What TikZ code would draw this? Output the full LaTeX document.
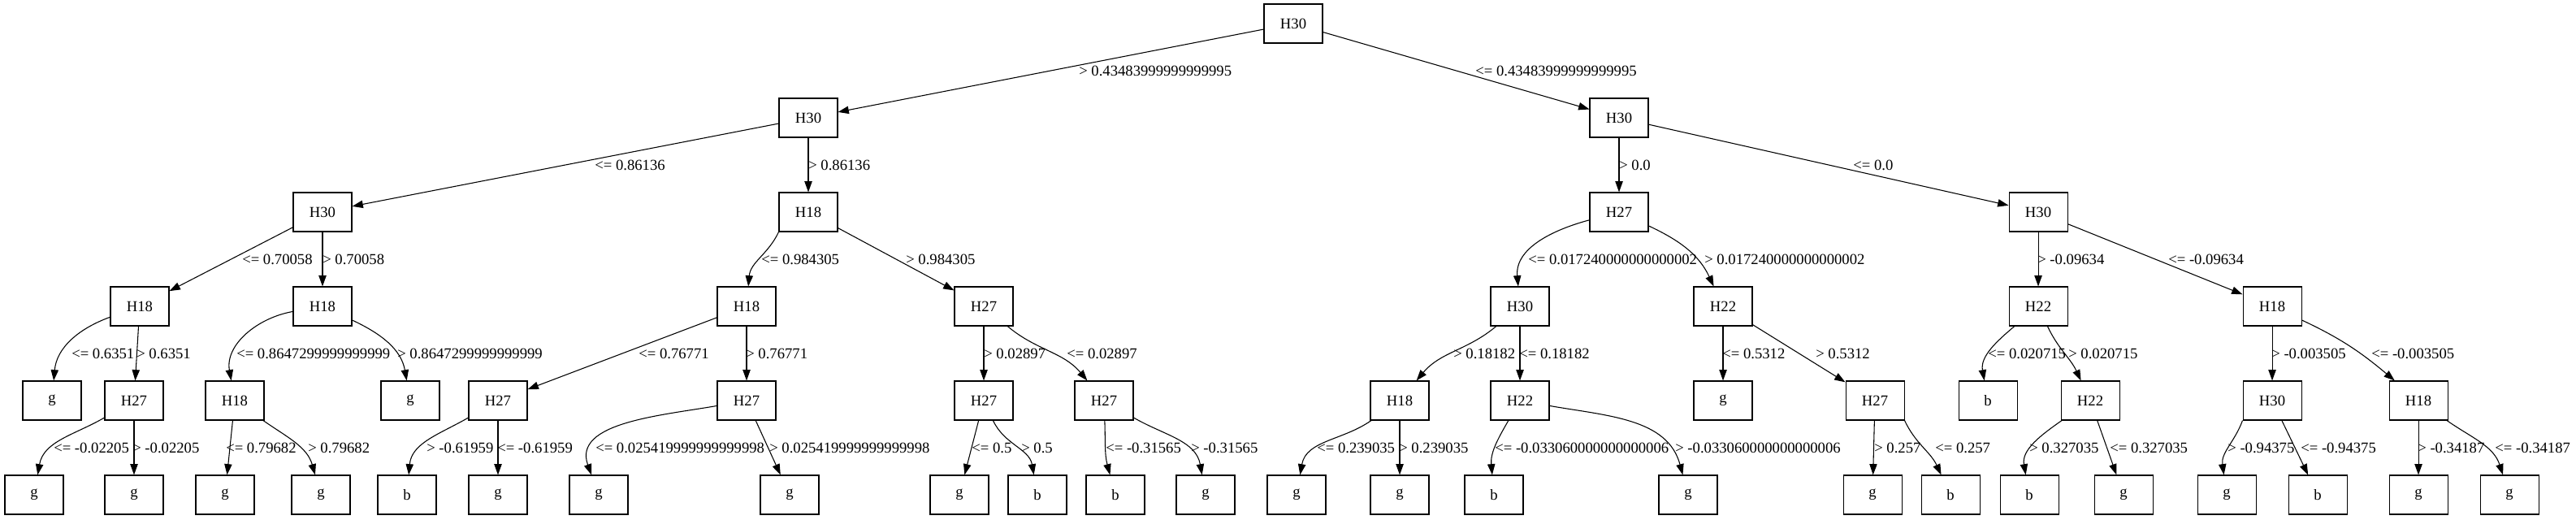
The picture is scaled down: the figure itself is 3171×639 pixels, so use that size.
\documentclass[tikz,border=0pt]{standalone}
\usepackage{fontspec}
\setmainfont{Liberation Serif}
\usetikzlibrary{arrows.meta}

\begin{document}
\begin{tikzpicture}[x=0.75pt,y=0.75pt,
    nbox/.style={draw,line width=0.8pt,minimum width=54pt,minimum height=36pt,inner sep=0pt,font=\fontsize{14}{16}\selectfont},
    elbl/.style={anchor=west,inner sep=0pt,font=\fontsize{14}{16}\selectfont},
    link/.style={line width=0.8pt,-{Triangle[length=10pt,width=7pt]}}]
  \fill[white] (0,0) rectangle (3171,-639);
  \useasboundingbox (0,0) rectangle (3171,-639);
  % tree nodes, one row per rank
  \node[nbox] (n0-0) at (1592,-29) {H30};
  \foreach \x/\t [count=\i from 0] in {995/H30,1993/H30}
    \node[nbox] (n1-\i) at (\x,-145) {\t};
  \foreach \x/\t [count=\i from 0] in {397/H30,995/H18,1993/H27,2509/H30}
    \node[nbox] (n2-\i) at (\x,-261) {\t};
  \foreach \x/\t [count=\i from 0] in {172/H18,397/H18,919/H18,1211/H27,1871/H30,2121/H22,2509/H22,2797/H18}
    \node[nbox] (n3-\i) at (\x,-377) {\t};
  \foreach \x/\t [count=\i from 0] in {64/g,165/H27,289/H18,505/g,613/H27,919/H27,1211/H27,1359/H27,
      1723/H18,1871/H22,2121/g,2308/H27,2447/b,2573/H22,2797/H30,2977/H18}
    \node[nbox] (n4-\i) at (\x,-493) {\t};
  \foreach \x/\t [count=\i from 0] in {42/g,165/g,277/g,395/g,501/b,613/g,737/g,972/g,1181/g,1277/b,1373/b,1484/g,
      1596/g,1723/g,1839/b,2078/g,2305/g,2401/b,2498/b,2614/g,2741/g,2853/b,2977/g,3089/g}
    \node[nbox] (n5-\i) at (\x,-609) {\t};
  % rank 0 -> 1
  \draw[link] (n0-0) -- (n1-0);
  \draw[link] (n0-0) -- (n1-1);
  % rank 1 -> 2
  \draw[link] (n1-0) -- (n2-0);
  \draw[link] (n1-0) -- (n2-1);
  \draw[link] (n1-1) -- (n2-2);
  \draw[link] (n1-1) -- (n2-3);
  % rank 2 -> 3
  \draw[link] (n2-0) -- (n3-0);
  \draw[link] (n2-0) -- (n3-1);
  \draw[link] (n2-1.south west) to[out=-115,in=85] (n3-2);
  \draw[link] (n2-1) -- (n3-3);
  \draw[link] (n2-2) to[out=-165,in=95] (n3-4);
  \draw[link] (n2-2) to[out=-25,in=115] (n3-5);
  \draw[link] (n2-3) -- (n3-6);
  \draw[link] (n2-3) -- (n3-7);
  % rank 3 -> 4
  \draw[link] (n3-0) to[out=-160,in=85] (n4-0);
  \draw[link] (n3-0) -- (n4-1);
  \draw[link] (n3-1) to[out=-170,in=100] (n4-2);
  \draw[link] (n3-1) to[out=-25,in=100] (n4-3);
  \draw[link] (n3-2) -- (n4-4);
  \draw[link] (n3-2) -- (n4-5);
  \draw[link] (n3-3) -- (n4-6);
  \draw[link] (n3-3) to[out=-40,in=130] (n4-7);
  \draw[link] (n3-4) to[out=-140,in=50] (n4-8);
  \draw[link] (n3-4) -- (n4-9);
  \draw[link] (n3-5) -- (n4-10);
  \draw[link] (n3-5) -- (n4-11);
  \draw[link] (n3-6) to[out=-140,in=100] (n4-12);
  \draw[link] (n3-6) to[out=-65,in=115] (n4-13);
  \draw[link] (n3-7) -- (n4-14);
  \draw[link] (n3-7) to[out=-25,in=140] (n4-15);
  % rank 4 -> 5
  \draw[link] (n4-1) to[out=-150,in=80] (n5-0);
  \draw[link] (n4-1) -- (n5-1);
  \draw[link] (n4-2) -- (n5-2);
  \draw[link] (n4-2) to[out=-35,in=106] (n5-3);
  \draw[link] (n4-4) to[out=-150,in=85] (n5-4);
  \draw[link] (n4-4) -- (n5-5);
  \draw[link] (n4-5) to[out=-170,in=110] (n5-6);
  \draw[link] (n4-5) -- (n5-7);
  \draw[link] (n4-6) -- (n5-8);
  \draw[link] (n4-6) to[out=-65,in=100] (n5-9);
  \draw[link] (n4-7) to[out=-88,in=105] (n5-10);
  \draw[link] (n4-7) to[out=-30,in=100] (n5-11);
  \draw[link] (n4-8) to[out=-145,in=80] (n5-12);
  \draw[link] (n4-8) -- (n5-13);
  \draw[link] (n4-9) to[out=-120,in=95] (n5-14);
  \draw[link] (n4-9) to[out=-10,in=105] (n5-15);
  \draw[link] (n4-11) -- (n5-16);
  \draw[link] (n4-11.south east) to[out=-65,in=115] (n5-17);
  \draw[link] (n4-13) to[out=-145,in=100] (n5-18);
  \draw[link] (n4-13) -- (n5-19);
  \draw[link] (n4-14.south west) to[out=-110,in=98] (n5-20);
  \draw[link] (n4-14) -- (n5-21);
  \draw[link] (n4-15) -- (n5-22);
  \draw[link] (n4-15) to[out=-35,in=108] (n5-23);
  % split thresholds
  \foreach \x/\t [count=\i from 0] in {1328/> 0.43483999999999995,1816/<= 0.43483999999999995}
    \node[elbl] (l0-\i) at (\x,-87) {\t};
  \foreach \x/\t [count=\i from 0] in {732/<= 0.86136,995/> 0.86136,1993/> 0.0,2281/<= 0.0}
    \node[elbl] (l1-\i) at (\x,-203) {\t};
  \foreach \x/\t [count=\i from 0] in {298/<= 0.70058,397/> 0.70058,937/<= 0.984305,1115/> 0.984305,
      1881/<= 0.017240000000000002,2098/> 0.017240000000000002,2508/> -0.09634,2669/<= -0.09634}
    \node[elbl] (l2-\i) at (\x,-319) {\t};
  \foreach \x/\t [count=\i from 0] in {88/<= 0.6351,168/> 0.6351,291/<= 0.8647299999999999,489/> 0.8647299999999999,
      786/<= 0.76771,918/> 0.76771,1211/> 0.02897,1313/<= 0.02897,1789/> 0.18182,1870/<= 0.18182,
      2120/<= 0.5312,2235/> 0.5312,2447/<= 0.020715,2546/> 0.020715,2796/> -0.003505,2919/<= -0.003505}
    \node[elbl] (l3-\i) at (\x,-435) {\t};
  \foreach \x/\t [count=\i from 0] in {66/<= -0.02205,163/> -0.02205,278/<= 0.79682,379/> 0.79682,
      525/> -0.61959,612/<= -0.61959,733/<= 0.025419999999999998,947/> 0.025419999999999998,
      1196/<= 0.5,1257/> 0.5,1361/<= -0.31565,1466/> -0.31565,1621/<= 0.239035,1722/> 0.239035,
      1840/<= -0.033060000000000006,2062/> -0.033060000000000006,2307/> 0.257,2382/<= 0.257,
      2498/> 0.327035,2597/<= 0.327035,2742/> -0.94375,2832/<= -0.94375,2976/> -0.34187,3071/<= -0.34187}
    \node[elbl] (l4-\i) at (\x,-551) {\t};
\end{tikzpicture}
\end{document}
